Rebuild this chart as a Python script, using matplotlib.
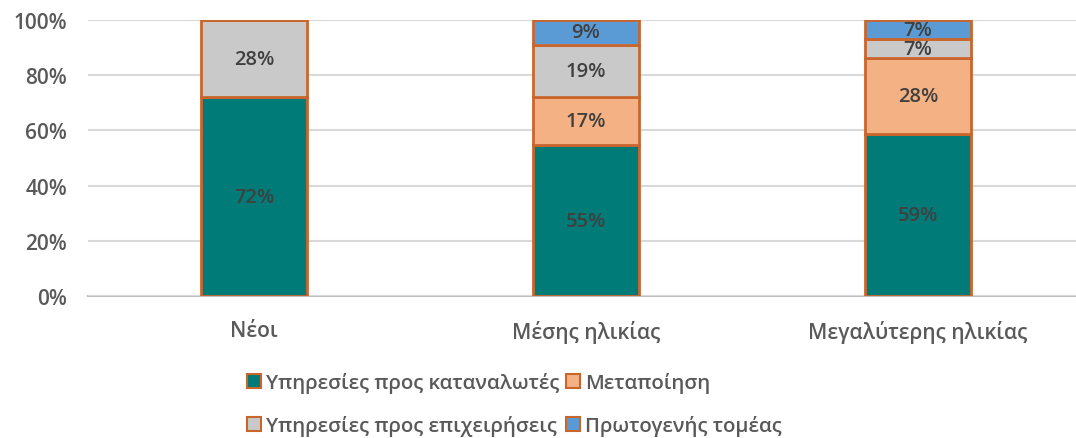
import matplotlib.pyplot as plt
import numpy as np
from matplotlib.patches import Patch

plt.rcParams['font.family'] = ['Open Sans', 'DejaVu Sans']
plt.rcParams['font.weight'] = 'semibold'

categories = ['Νέοι', 'Μέσης ηλικίας', 'Μεγαλύτερης ηλικίας']
series_names = ['Υπηρεσίες προς καταναλωτές', 'Μεταποίηση',
                'Υπηρεσίες προς επιχειρήσεις', 'Πρωτογενής τομέας']
consumers = [72.0, 54.6, 58.6]
manufacturing = [0.0, 17.4, 27.5]
business = [28.0, 19.0, 7.0]
primary = [0.0, 9.0, 6.9]
colors = ['#007B78', '#F4B183', '#C9C9C9', '#5B9BD5']
edge = '#C9662E'
text_col = '#595959'

fig = plt.figure(figsize=(10.76, 4.39), dpi=100)
ax = fig.add_axes([88 / 1076, 142 / 439, 996 / 1076, 276 / 439])

x = np.arange(len(categories))
bottom = np.zeros(len(categories))
for vals, col in zip([consumers, manufacturing, business, primary], colors):
    vals = np.array(vals, dtype=float)
    ax.bar(x, vals, 0.32, bottom=bottom, color=col, edgecolor=edge,
           linewidth=2, zorder=3)
    for xi, v, b in zip(x, vals, bottom):
        if v > 0:
            ax.text(xi, b + v / 2, f'{v:.0f}%', ha='center', va='center',
                    fontsize=14.5, color='#404040', zorder=4)
    bottom += vals

ax.set_xlim(-0.5, 2.5)
ax.set_ylim(0, 100)
ax.set_yticks(range(0, 101, 20))
ax.set_yticklabels([f'{v}%' for v in range(0, 101, 20)], fontsize=15, color=text_col)
ax.set_xticks(x)
ax.set_xticklabels(categories, fontsize=15, color=text_col)
ax.tick_params(length=0)
ax.tick_params(axis='y', pad=15)
ax.tick_params(axis='x', pad=17)
ax.grid(axis='y', color='#D9D9D9', linewidth=1.5, zorder=0)
for s in ['top', 'right', 'left']:
    ax.spines[s].set_visible(False)
ax.spines['bottom'].set_color('#BFBFBF')
ax.spines['bottom'].set_linewidth(1.5)
ax.spines['bottom'].set_zorder(1)

order = [0, 2, 1, 3]
handles = [Patch(facecolor=colors[i], edgecolor=edge, linewidth=1.5) for i in order]
labels = [series_names[i] for i in order]
fig.legend(handles, labels, ncol=2, loc='center', bbox_to_anchor=(0.478, 0.077),
           frameon=False, fontsize=14.7, labelcolor=text_col, handlelength=0.7,
           handleheight=0.7, handletextpad=0.25, columnspacing=0.3,
           labelspacing=1.1)

fig.savefig('out.png', dpi=100)
